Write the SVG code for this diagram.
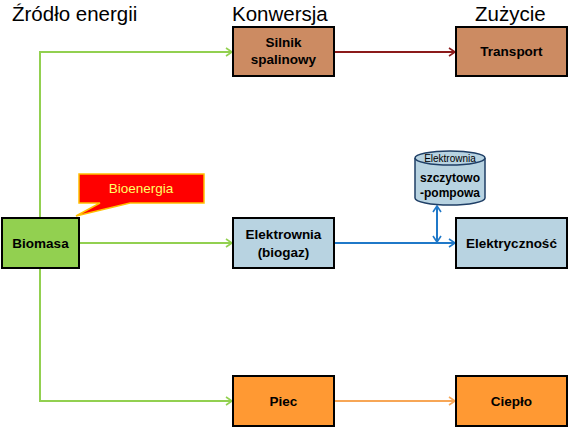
<svg xmlns="http://www.w3.org/2000/svg" width="570" height="428" viewBox="0 0 570 428">
<style>
.t{font-family:"Liberation Sans",Arial,sans-serif;font-size:20.5px;fill:#000}
.b{font-family:"Liberation Sans",Arial,sans-serif;font-size:13.5px;font-weight:bold;fill:#000;text-anchor:middle}
.c{font-size:12px}
.box{stroke:#000;stroke-width:2}
.br{fill:#CC8B62}.bl{fill:#B8D3E1}.or{fill:#FF9933}.gr{fill:#92D050}
.ln{fill:none;stroke-width:2}
</style>
<defs>
<marker id="ag" markerWidth="10" markerHeight="10" refX="8" refY="5" orient="auto" markerUnits="userSpaceOnUse"><path d="M2,1 L8,5 L2,9" fill="none" stroke="#92D050" stroke-width="1.6"/></marker>
<marker id="ar" markerWidth="10" markerHeight="10" refX="8" refY="5" orient="auto" markerUnits="userSpaceOnUse"><path d="M2,1 L8,5 L2,9" fill="none" stroke="#8B1A1A" stroke-width="1.6"/></marker>
<marker id="ab" markerWidth="10" markerHeight="10" refX="8" refY="5" orient="auto" markerUnits="userSpaceOnUse"><path d="M2,1 L8,5 L2,9" fill="none" stroke="#1F78C8" stroke-width="1.6"/></marker>
<marker id="ab2" markerWidth="10" markerHeight="10" refX="2" refY="5" orient="auto" markerUnits="userSpaceOnUse"><path d="M8,1 L2,5 L8,9" fill="none" stroke="#1F78C8" stroke-width="1.6"/></marker>
<marker id="ao" markerWidth="10" markerHeight="10" refX="8" refY="5" orient="auto" markerUnits="userSpaceOnUse"><path d="M2,1 L8,5 L2,9" fill="none" stroke="#F7A656" stroke-width="1.6"/></marker>
</defs>
<g id="titles">
<text class="t" x="12" y="21">Źródło energii</text>
<text class="t" x="232" y="21">Konwersja</text>
<text class="t" x="475" y="21">Zużycie</text>
</g>
<g id="connectors">
<path class="ln" stroke="#92D050" d="M40,218 L40,52 L232,52" marker-end="url(#ag)"/>
<path class="ln" stroke="#92D050" d="M40,268 L40,401 L232,401" marker-end="url(#ag)"/>
<path class="ln" stroke="#92D050" d="M79,243 L232,243" marker-end="url(#ag)"/>
<path class="ln" stroke="#8B1A1A" d="M334,52 L455,52" marker-end="url(#ar)"/>
<path class="ln" stroke="#1F78C8" d="M334,243 L455,243" marker-end="url(#ab)"/>
<path class="ln" stroke="#1F78C8" d="M437,206 L437,242" marker-start="url(#ab2)" marker-end="url(#ab)"/>
<path class="ln" stroke="#F7A656" d="M334,401 L455,401" marker-end="url(#ao)"/>
</g>
<g id="silnik"><rect class="box br" x="233" y="27" width="101" height="49"/><text class="b" x="283.5" y="47">Silnik</text><text class="b" x="283.5" y="64">spalinowy</text></g>
<g id="transport"><rect class="box br" x="456" y="27" width="111" height="49"/><text class="b" x="511.5" y="56">Transport</text></g>
<g id="biomasa"><rect class="box gr" x="2" y="218" width="77" height="50"/><text class="b" x="40.5" y="248">Biomasa</text></g>
<g id="bioenergia"><path d="M79,174 L204,174 L204,203 L130,203 L76,216 L100,203 L79,203 Z" fill="#FF0000" stroke="#FFC000" stroke-width="1.5"/><text x="141" y="193" font-family="Liberation Sans,Arial,sans-serif" font-size="13.5" fill="#FFFF66" text-anchor="middle">Bioenergia</text></g>
<g id="elektrownia"><rect class="box bl" x="233" y="218" width="101" height="50"/><text class="b" x="283.5" y="239">Elektrownia</text><text class="b" x="283.5" y="257">(biogaz)</text></g>
<g id="elektrycznosc"><rect class="box bl" x="456" y="218" width="111" height="50"/><text class="b" x="511.5" y="248">Elektryczność</text></g>
<g id="szczytowo">
<path d="M415,158 L415,198 A35,7 0 0 0 485,198 L485,158" fill="#B8D3E1" stroke="#1F3F66" stroke-width="1.5"/>
<ellipse cx="450" cy="158" rx="35" ry="7" fill="#B8D3E1" stroke="#1F3F66" stroke-width="1.5"/>
<text x="450" y="162" font-family="Liberation Sans,Arial,sans-serif" font-size="10" fill="#000" text-anchor="middle">Elektrownia</text>
<text class="b c" x="450" y="182">szczytowo</text>
<text class="b c" x="450" y="197">-pompowa</text>
</g>
<g id="piec"><rect class="box or" x="233" y="376" width="101" height="50"/><text class="b" x="283.5" y="406">Piec</text></g>
<g id="cieplo"><rect class="box or" x="456" y="376" width="111" height="50"/><text class="b" x="511.5" y="406">Ciepło</text></g>
</svg>
